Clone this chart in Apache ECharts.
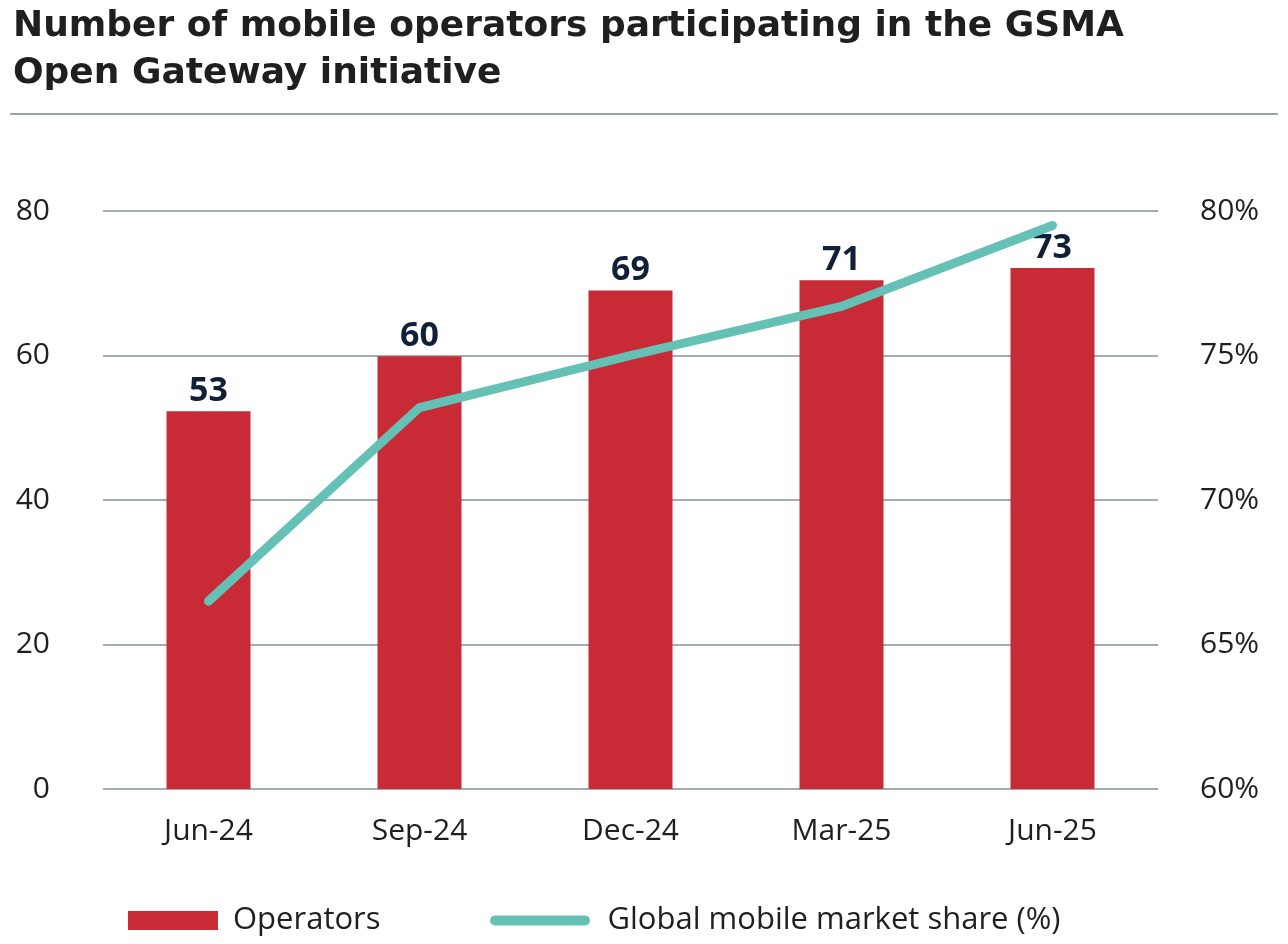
<!DOCTYPE html>
<html>
<head>
<meta charset="utf-8">
<script src="https://cdn.jsdelivr.net/npm/echarts@6/dist/echarts.min.js"></script>
<style>
  html, body { margin: 0; padding: 0; background: #fff; }
  #chart { width: 1288px; height: 944px; }
</style>
</head>
<body>
<div id="chart"></div>
<script>
var chart = echarts.init(document.getElementById('chart'));

var quarters = ['Jun-24', 'Sep-24', 'Dec-24', 'Mar-25', 'Jun-25'];
var operators = [52.3, 59.9, 69.0, 70.4, 72.1];      // bar heights as drawn
var operatorLabels = [53, 60, 69, 71, 73];            // printed values
var marketShare = [66.5, 73.2, 75.0, 76.7, 79.5];     // %
var leftTicks = [0, 80, 20];                          // min, max, interval
var rightTicks = [60, 80, 5];

var font = 'Open Sans';

option = {
    backgroundColor: '#fff',
    animation: false,
    title: {
        text: 'Number of mobile operators participating in the GSMA\nOpen Gateway initiative',
        left: 8,
        top: -2,
        textStyle: {
            fontFamily: 'DejaVu Sans',
            fontWeight: 'bold',
            fontSize: 36,
            lineHeight: 47,
            color: '#1f1f1f'
        }
    },
    graphic: [{
        type: 'line',
        shape: { x1: 10, y1: 114, x2: 1278, y2: 114 },
        style: { stroke: '#7c8590', lineWidth: 1.5 }
    }],
    grid: {
        left: 103,
        right: 130,
        top: 211,
        bottom: 155
    },
    legend: [{
        data: [{ name: 'Operators', icon: 'rect' }],
        left: 123,
        top: 900,
        itemWidth: 90,
        itemHeight: 19,
        textStyle: { fontFamily: font, fontSize: 31, color: '#1f1f1f', padding: [0, 0, 0, 10] }
    }, {
        data: [{
            name: 'Global mobile market share (%)',
            icon: 'path://M5,0 H95 A5,5 0 0 1 95,10 H5 A5,5 0 0 1 5,0 Z'
        }],
        left: 485,
        top: 900,
        itemWidth: 105,
        itemHeight: 10,
        textStyle: { fontFamily: font, fontSize: 31, color: '#1f1f1f', padding: [0, 0, 0, 10] }
    }],
    xAxis: {
        type: 'category',
        data: quarters,
        axisTick: { show: false },
        axisLine: { show: false },
        axisLabel: {
            margin: 27,
            fontFamily: font,
            fontSize: 30,
            color: '#1f1f1f'
        }
    },
    yAxis: [{
        type: 'value',
        min: leftTicks[0],
        max: leftTicks[1],
        interval: leftTicks[2],
        axisLine: { show: false },
        axisTick: { show: false },
        splitLine: { lineStyle: { color: '#a3abb3', width: 2 } },
        axisLabel: {
            margin: 53,
            fontFamily: font,
            fontSize: 30,
            color: '#1f1f1f'
        }
    }, {
        type: 'value',
        min: rightTicks[0],
        max: rightTicks[1],
        interval: rightTicks[2],
        axisLine: { show: false },
        axisTick: { show: false },
        splitLine: { show: false },
        axisLabel: {
            margin: 42,
            formatter: '{value}%',
            fontFamily: font,
            fontSize: 30,
            color: '#1f1f1f'
        }
    }],
    series: [{
        name: 'Operators',
        type: 'bar',
        data: operators,
        barWidth: 84,
        itemStyle: { color: '#c92b36' },
        label: {
            show: true,
            position: 'top',
            distance: 3,
            formatter: function (p) { return operatorLabels[p.dataIndex]; },
            fontFamily: font,
            fontWeight: 'bold',
            fontSize: 34,
            color: '#0f2038'
        }
    }, {
        name: 'Global mobile market share (%)',
        type: 'line',
        yAxisIndex: 1,
        data: marketShare,
        symbol: 'none',
        lineStyle: { color: '#65c1b6', width: 9, cap: 'round', join: 'round' },
        itemStyle: { color: '#65c1b6' },
        z: 5
    }]
};
chart.setOption(option);
</script>
</body>
</html>
